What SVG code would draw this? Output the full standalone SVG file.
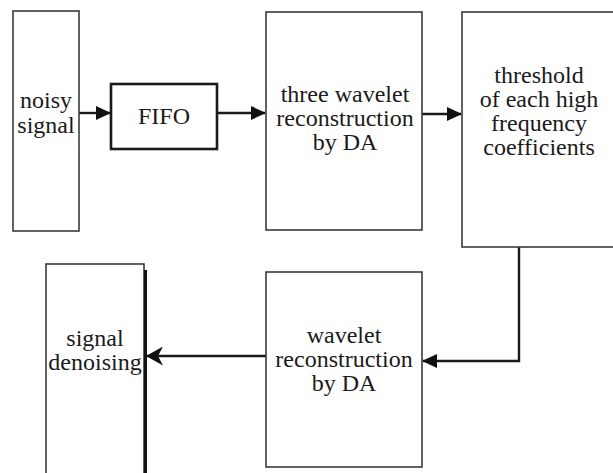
<svg xmlns="http://www.w3.org/2000/svg" width="613" height="473" viewBox="0 0 613 473">
<style>
.box{fill:#fff;stroke:#3a3a3a;stroke-width:1.6}
.thick{fill:#fff;stroke:#1a1a1a;stroke-width:2.6}
.lbl{font-family:"Liberation Serif","Times New Roman",serif;font-size:24px;fill:#1a1a1a;text-anchor:middle}
.wire{fill:none;stroke:#1a1a1a;stroke-width:2.4}
</style>
<defs>
<marker id="ah" markerWidth="15" markerHeight="14" refX="14" refY="7" orient="auto" markerUnits="userSpaceOnUse">
<path d="M0,0 L15,7 L0,14 Z" fill="#111"/>
</marker>
<marker id="ah2" markerWidth="17" markerHeight="19" refX="16" refY="9.5" orient="auto" markerUnits="userSpaceOnUse">
<path d="M0,0 L17,9.5 L0,19 L5,9.5 Z" fill="#111"/>
</marker>
</defs>
<rect width="613" height="473" fill="#fff"/>
<g id="connectors">
<line class="wire" x1="79" y1="113" x2="110" y2="113" marker-end="url(#ah)"/>
<line class="wire" x1="217" y1="113" x2="265" y2="113" marker-end="url(#ah)"/>
<line class="wire" x1="422" y1="114" x2="461" y2="114" marker-end="url(#ah)"/>
<polyline class="wire" points="519,247 519,361 423,361" marker-end="url(#ah)"/>
<line class="wire" x1="266" y1="356" x2="147" y2="356" marker-end="url(#ah2)"/>
</g>
<g id="noisy-signal">
<rect class="box" x="13" y="11" width="66" height="220"/>
<text class="lbl" x="46" y="108">noisy</text>
<text class="lbl" x="46" y="133">signal</text>
</g>
<g id="fifo">
<rect class="thick" x="111" y="84" width="106" height="65"/>
<text class="lbl" x="164" y="124">FIFO</text>
</g>
<g id="three-wavelet">
<rect class="box" x="266" y="12" width="156" height="218"/>
<text class="lbl" x="345" y="102">three wavelet</text>
<text class="lbl" x="345" y="126">reconstruction</text>
<text class="lbl" x="345" y="150">by DA</text>
</g>
<g id="threshold">
<rect class="box" x="462" y="12" width="160" height="235"/>
<text class="lbl" x="539" y="83">threshold</text>
<text class="lbl" x="539" y="107">of each high</text>
<text class="lbl" x="539" y="131">frequency</text>
<text class="lbl" x="539" y="155">coefficients</text>
</g>
<g id="wavelet-reconstruction">
<rect class="box" x="266" y="272" width="156" height="195"/>
<text class="lbl" x="344" y="343">wavelet</text>
<text class="lbl" x="344" y="367">reconstruction</text>
<text class="lbl" x="344" y="391">by DA</text>
</g>
<g id="signal-denoising">
<rect class="box" x="46" y="264" width="98" height="220"/>
<line x1="145.5" y1="270" x2="145.5" y2="473" stroke="#111" stroke-width="3"/>
<text class="lbl" x="95" y="346">signal</text>
<text class="lbl" x="95" y="370">denoising</text>
</g>
</svg>
